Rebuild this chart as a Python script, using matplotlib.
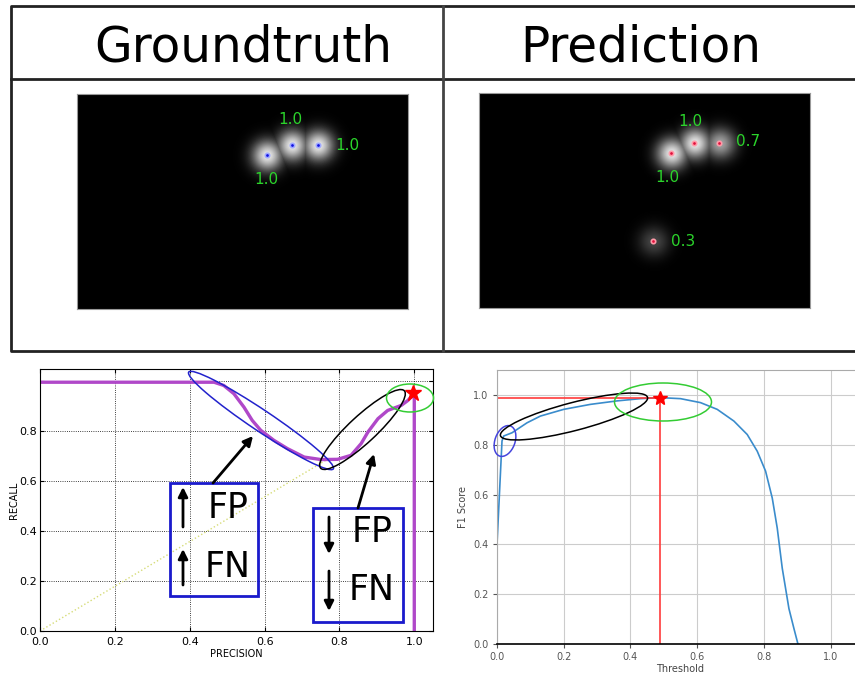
import numpy as np
import matplotlib
matplotlib.use("Agg")
import matplotlib.pyplot as plt
from matplotlib.patches import Ellipse, Rectangle

W, H = 855, 674  # output size in pixels (dpi 100)

# --- Heatmap panels (image pixel coords) ---
IMG_W, IMG_H = 331, 215
gt_x = [190, 215, 241]
gt_y = [61, 51, 51]
gt_conf = [1.0, 1.0, 1.0]
gt_labels = ["1.0", "1.0", "1.0"]
gt_label_offset = [(-1, 25), (-2, -26), (29, 0)]

pred_x = [192, 215, 240, 174]
pred_y = [60, 50, 50, 148]
pred_conf = [1.0, 1.0, 0.7, 0.3]
pred_labels = ["1.0", "1.0", "0.7", "0.3"]
pred_label_offset = [(-4, 24), (-4, -22), (29, -1), (30, 1)]

# --- Precision / recall curve ---
pr_precision = [0.0, 0.465, 0.491, 0.518, 0.545, 0.567, 0.59, 0.625, 0.661, 0.706, 0.751,
                0.795, 0.831, 0.858, 0.876, 0.903, 0.929, 0.965, 0.983, 1.0, 1.0]
pr_recall = [0.997, 0.997, 0.984, 0.951, 0.897, 0.844, 0.804, 0.764, 0.731, 0.697, 0.687,
             0.688, 0.704, 0.751, 0.797, 0.851, 0.884, 0.904, 0.924, 0.953, 0.0]
diag_x = [0.0, 0.77]
diag_y = [0.0, 0.69]
best_p, best_r = 0.997, 0.953

# --- F1 vs threshold ---
f1_threshold = [0.0, 0.015, 0.02, 0.045, 0.09, 0.13, 0.2, 0.28, 0.36, 0.43, 0.49, 0.55, 0.61,
                0.66, 0.71, 0.75, 0.78, 0.805, 0.825, 0.84, 0.855, 0.875, 0.89, 0.902]
f1_score = [0.40, 0.815, 0.835, 0.848, 0.888, 0.915, 0.942, 0.962, 0.976, 0.985, 0.989, 0.985, 0.969,
            0.942, 0.895, 0.841, 0.774, 0.694, 0.586, 0.465, 0.304, 0.142, 0.062, 0.0]
best_t, best_f1 = 0.49, 0.987


def px_axes(fig, x0, y0, w, h):
    """Axes placed by top-left pixel position."""
    return fig.add_axes([x0 / W, (H - y0 - h) / H, w / W, h / H])


def heatmap(xs, ys, conf, sigma=10.5):
    yy, xx = np.mgrid[0:IMG_H, 0:IMG_W]
    img = np.zeros((IMG_H, IMG_W))
    for x, y, c in zip(xs, ys, conf):
        g = c * np.exp(-((xx - x) ** 2 + (yy - y) ** 2) / (2 * sigma ** 2))
        img = np.maximum(img, g)
    return img


def draw_panel(ax, xs, ys, conf, labels, offsets, dot_color, halo):
    ax.imshow(heatmap(xs, ys, conf), cmap="gray", vmin=0, vmax=1.1,
              extent=(0, IMG_W, IMG_H, 0), interpolation="bilinear")
    ax.scatter(xs, ys, s=10, color=dot_color, edgecolors=halo, linewidths=1.2, zorder=3)
    for x, y, lab, (dx, dy) in zip(xs, ys, labels, offsets):
        ax.text(x + dx, y + dy, lab, color="#2bd42b", fontsize=11,
                ha="center", va="center")
    ax.set_xlim(0, IMG_W)
    ax.set_ylim(IMG_H, 0)
    ax.set_xticks([])
    ax.set_yticks([])
    for s in ax.spines.values():
        s.set_color("#999999")
        s.set_linewidth(0.8)


fig = plt.figure(figsize=(W / 100, H / 100), dpi=100)

# top images
ax_gt = px_axes(fig, 77, 94, IMG_W, IMG_H)
draw_panel(ax_gt, gt_x, gt_y, gt_conf, gt_labels, gt_label_offset, "#1010e0", "#9fa8ff")
ax_pr = px_axes(fig, 479, 93, IMG_W, IMG_H)
draw_panel(ax_pr, pred_x, pred_y, pred_conf, pred_labels, pred_label_offset, "#e0103c", "#ff9aa8")

# precision-recall plot
ax1 = px_axes(fig, 40, 369, 393, 262)
ax1.plot(diag_x, diag_y, ":", color="#d6dc78", lw=1)
ax1.plot(pr_precision, pr_recall, color="#b048c9", lw=2.4)
ax1.plot([best_p], [best_r], marker="*", color="red", ms=12, zorder=5)
ax1.set_xlim(0, 1.05)
ax1.set_ylim(0, 1.05)
ax1.set_xticks(np.arange(0, 1.01, 0.2))
ax1.set_yticks(np.arange(0, 1.01, 0.2))
ax1.set_yticklabels(["0.0", "0.2", "0.4", "0.6", "0.8", ""])
ax1.grid(True, ls=":", color="k", lw=0.6)
ax1.tick_params(direction="in", labelsize=8, top=True, right=True, length=3, pad=2)
ax1.tick_params(axis="x", pad=4)
ax1.set_xlabel("PRECISION", fontsize=7, labelpad=2)
ax1.set_ylabel("RECALL", fontsize=7, labelpad=0)
for s in ax1.spines.values():
    s.set_linewidth(0.8)

# F1 vs threshold plot
ax2 = px_axes(fig, 497, 370, 367, 274)
ax2.plot(f1_threshold, f1_score, color="#3a8ccc", lw=1.2)
ax2.plot([0, best_t], [best_f1, best_f1], color="#ff3b3b", lw=1.2)
ax2.plot([best_t, best_t], [0, best_f1], color="#ff3b3b", lw=1.2)
ax2.plot([best_t], [best_f1], marker="*", color="red", ms=10, zorder=5)
ax2.set_xlim(0, 1.1)
ax2.set_ylim(0, 1.1)
ax2.set_xticks(np.arange(0, 1.01, 0.2))
ax2.set_yticks(np.arange(0, 1.01, 0.2))
ax2.grid(True, color="#cccccc", lw=0.8)
ax2.tick_params(labelsize=7, colors="#555555", length=3, pad=3)
ax2.set_xlabel("Threshold", fontsize=7, color="#444444", labelpad=1)
ax2.set_ylabel("F1 Score", fontsize=7, color="#444444")
for s in ["top", "left", "right"]:
    ax2.spines[s].set_color("#aaaaaa")
ax2.spines["bottom"].set_linewidth(1.2)

# overlay for table lines and annotations (pixel coords, y down)
ov = fig.add_axes([0, 0, 1, 1])
ov.set_xlim(0, W)
ov.set_ylim(H, 0)
ov.axis("off")
ov.set_zorder(10)

ov.plot([870, 11, 11, 870], [6, 6, 351, 351], color="#222222", lw=2)
ov.plot([11, 870], [79, 79], color="#222222", lw=2)
ov.plot([443, 443], [6, 351], color="#444444", lw=2)
ov.text(243, 48, "Groundtruth", fontsize=35, ha="center", va="center")
ov.text(641, 48, "Prediction", fontsize=35, ha="center", va="center")

ellipses = [
    ((261, 420.5), 174, 21, 33.8, "#2222cc"),
    ((362.5, 429.5), 114, 27, -42.8, "black"),
    ((410, 398), 47, 28, 0, "#33cc33"),
    ((505, 441), 20, 32, 20, "#4444dd"),
    ((574, 416.5), 152, 28, -14.6, "black"),
    ((663, 402), 97, 38, 0, "#33cc33"),
]
for c, w, h, a, col in ellipses:
    ov.add_patch(Ellipse(c, w, h, angle=a, fill=False, ec=col, lw=1.1))

for x0, y0, x1, y1 in [(170, 483, 258, 596), (313, 508, 403, 622)]:
    ov.add_patch(Rectangle((x0, y0), x1 - x0, y1 - y0, fill=False, ec="#1a1acc", lw=2))

ov.text(228, 508, "FP", fontsize=25, ha="center", va="center")
ov.text(228, 567, "FN", fontsize=25, ha="center", va="center")
ov.text(372, 532, "FP", fontsize=25, ha="center", va="center")
ov.text(372, 590, "FN", fontsize=25, ha="center", va="center")

arrow = dict(arrowstyle="-|>", color="black", lw=2, mutation_scale=14, shrinkA=0, shrinkB=0)
for (xa, ya), (xb, yb) in [((183, 527), (183, 487)), ((183, 585), (183, 549)),
                           ((329, 517), (329, 554)), ((329, 571), (329, 611)),
                           ((213, 483), (253, 436)), ((358, 508), (374, 454))]:
    ov.annotate("", xy=(xb, yb), xytext=(xa, ya), arrowprops=arrow)

fig.savefig("out.png", dpi=100)
